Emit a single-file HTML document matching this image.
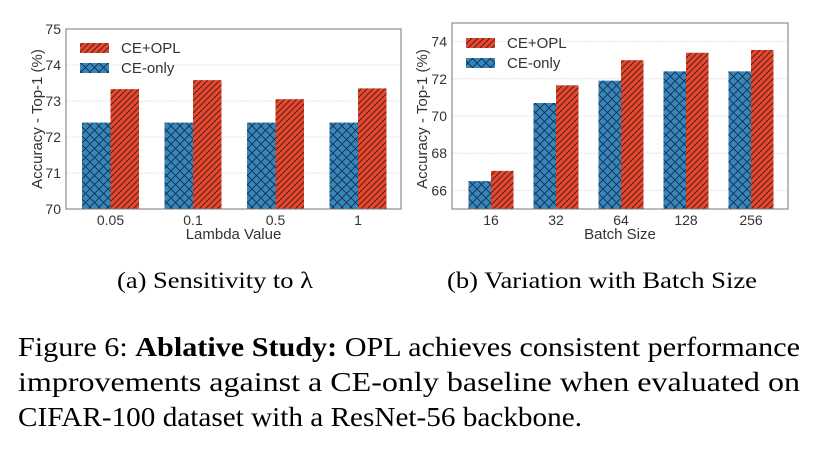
<!DOCTYPE html>
<html><head><meta charset="utf-8"><style>
body{margin:0;background:#fff;width:817px;height:450px;overflow:hidden}
svg{display:block}
.tick{font-family:"Liberation Sans",sans-serif;font-size:14px;fill:#333}
.lab{font-family:"Liberation Sans",sans-serif;font-size:15px;fill:#333}
.ser{font-family:"Liberation Serif",serif;fill:#000}
</style></head><body>
<svg id="fig" width="817" height="450" xmlns="http://www.w3.org/2000/svg">
<defs>
<pattern id="xh" patternUnits="userSpaceOnUse" width="9" height="9">
<rect width="9" height="9" fill="#3386bf"/>
<path d="M0,0L9,9M9,0L0,9" stroke="#1a2a3a" stroke-width="0.8"/>
</pattern>
<pattern id="dh" patternUnits="userSpaceOnUse" width="6" height="6">
<rect width="6" height="6" fill="#e5472f"/>
<path d="M-1,7L7,-1M-1,1L1,-1M5,7L7,5" stroke="#3a1a14" stroke-width="0.8"/>
</pattern>
</defs>
<g id="chartA"></g>
<g id="chartB"></g>
<text class="ser" x="117" y="288" font-size="23" textLength="196" lengthAdjust="spacingAndGlyphs">(a) Sensitivity to λ</text>
<text class="ser" x="447" y="288" font-size="23" textLength="310" lengthAdjust="spacingAndGlyphs">(b) Variation with Batch Size</text>
<g>
<text class="ser" x="18" y="356" font-size="27" textLength="782" lengthAdjust="spacingAndGlyphs">Figure 6: <tspan font-weight="bold">Ablative Study:</tspan> OPL achieves consistent performance</text>
<text class="ser" x="18" y="391" font-size="27" textLength="782" lengthAdjust="spacingAndGlyphs">improvements  against  a  CE-only  baseline  when  evaluated  on</text>
<text class="ser" x="18" y="426" font-size="27" textLength="564" lengthAdjust="spacingAndGlyphs">CIFAR-100 dataset with a ResNet-56 backbone.</text>
</g>
</svg>
<script>
const NS="http://www.w3.org/2000/svg";
const catsA=["0.05","0.1","0.5","1"];
const ceA=[72.4,72.4,72.4,72.4];
const oplA=[73.33,73.58,73.05,73.35];
const ticksA=[70,71,72,73,74,75];
const catsB=["16","32","64","128","256"];
const ceB=[66.5,70.7,71.9,72.4,72.4];
const oplB=[67.05,71.65,73.0,73.4,73.55];
const ticksB=[66,68,70,72,74];

function mk(p,tag,attrs,txt){const e=document.createElementNS(NS,tag);for(const k in attrs)e.setAttribute(k,attrs[k]);if(txt!==undefined)e.textContent=txt;p.appendChild(e);return e;}

function chart(g,o){
  const {x0,x1,y0,y1,vmin,vmax,cats,ce,opl,ticks,xlabel,lx,ly,first,step,bw,lgx,lgy}=o;
  const Y=v=>y1-(v-vmin)/(vmax-vmin)*(y1-y0);
  const X=i=>first+i*step;
  ticks.forEach(t=>{
    const l=mk(g,"line",{x1:x0,x2:x1,y1:Y(t),y2:Y(t),stroke:"#ddd","stroke-width":0.8,"stroke-dasharray":"2,1"});
    
    
    const tx=mk(g,"text",{x:x0-5,y:Y(t)+5,"text-anchor":"end",class:"tick"},String(t));
    
    
  });
  cats.forEach((c,i)=>{
    const b1=mk(g,"rect",{x:X(i)-bw,y:Y(ce[i]),width:bw,height:y1-Y(ce[i]),fill:"url(#xh)"});
    
    
    const b2=mk(g,"rect",{x:X(i),y:Y(opl[i]),width:bw,height:y1-Y(opl[i]),fill:"url(#dh)"});
    
    
    const t=mk(g,"text",{x:X(i),y:y1+16,"text-anchor":"middle",class:"tick"},c);
    
    
  });
  const fr=mk(g,"rect",{x:x0,y:y0,width:x1-x0,height:y1-y0,fill:"none",stroke:"#777","stroke-width":1});
  
  
  const xl=mk(g,"text",{x:(x0+x1)/2,y:y1+30,"text-anchor":"middle",class:"lab"},xlabel);
  
  
  const yl=mk(g,"text",{x:0,y:0,"text-anchor":"middle",class:"lab",transform:`translate(${lx},${ly}) rotate(-90)`},"Accuracy - Top-1 (%)");
  
  
  const lg=mk(g,"g",{});
  
  
  mk(lg,"rect",{x:lgx,y:lgy,width:29,height:10,fill:"url(#dh)"});
  mk(lg,"text",{x:lgx+41,y:lgy+10,class:"lab"},"CE+OPL");
  mk(lg,"rect",{x:lgx,y:lgy+20,width:29,height:10,fill:"url(#xh)"});
  mk(lg,"text",{x:lgx+41,y:lgy+30,class:"lab"},"CE-only");
}
chart(document.getElementById("chartA"),{x0:66,x1:401,y0:29,y1:209,vmin:70,vmax:75,cats:catsA,ce:ceA,opl:oplA,ticks:ticksA,xlabel:"Lambda Value",lx:42,ly:119,first:110.5,step:82.5,bw:28.5,lgx:80,lgy:43});
chart(document.getElementById("chartB"),{x0:452,x1:788,y0:23,y1:209,vmin:65,vmax:75,cats:catsB,ce:ceB,opl:oplB,ticks:ticksB,xlabel:"Batch Size",lx:427,ly:119,first:491,step:65,bw:22.5,lgx:466,lgy:38});
</script>
</body></html>
